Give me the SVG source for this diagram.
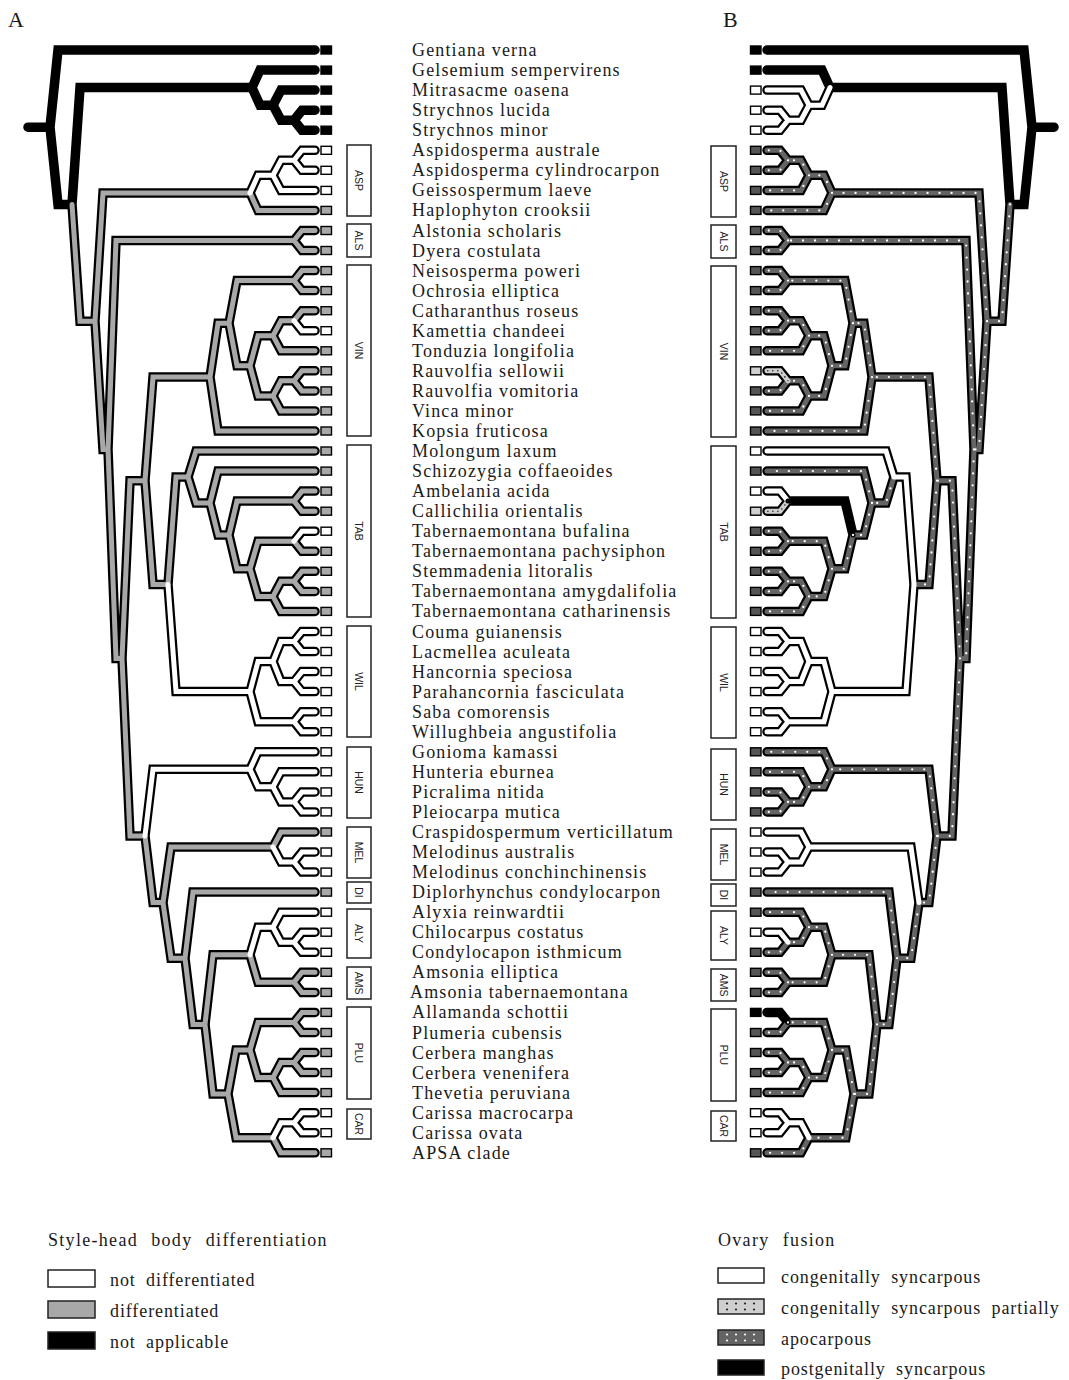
<svg xmlns="http://www.w3.org/2000/svg" xmlns:xlink="http://www.w3.org/1999/xlink" width="1069" height="1380" viewBox="0 0 1069 1380">
<style>
.ol{fill:none;stroke:#000;stroke-width:9.5;stroke-linecap:round;stroke-linejoin:miter}
.e{fill:none;stroke-width:5;stroke-linecap:round;stroke-linejoin:miter}
.g{stroke:#a8a8a8}.w{stroke:#fff}.k{stroke:#000}.a{stroke:#646464}.p{stroke:#cfcfcf}
.ad{fill:none;stroke:#fff;stroke-width:2.3;stroke-linecap:round;stroke-dasharray:0 12}
.pd{fill:none;stroke:#222;stroke-width:1.6;stroke-linecap:round;stroke-dasharray:0 5}
.tip rect{stroke:#000;stroke-width:1.4}
.tk{fill:#000}.tw{fill:#fff}.tg{fill:#a8a8a8}.ta{fill:#555}.tp{fill:#cfcfcf}
.nm{font-family:"Liberation Serif","Times New Roman",serif;font-size:18px;letter-spacing:1.15px;fill:#1a1a1a}
.cb rect{fill:#fff;stroke:#222;stroke-width:1.5}
.cb text{font-family:"Liberation Sans",Arial,sans-serif;font-size:10.5px;fill:#222;text-anchor:middle}
.lg{font-family:"Liberation Serif","Times New Roman",serif;font-size:18px;letter-spacing:0.9px;word-spacing:5px;fill:#1a1a1a}
.lt{letter-spacing:1.3px;word-spacing:7.5px}
.lb{stroke:#222;stroke-width:1.5}
.hd{font-family:"Liberation Serif","Times New Roman",serif;font-size:22px;fill:#1a1a1a}
</style>
<defs>
<path id="allE" d="M28 127.2H50 M50 127.2L58 50H315 M50 127.2L58 204.4H72 M72 204.4L80 87.6H252 M252 87.6L260 70.1H315 M252 87.6L260 105.2H273 M273 105.2L281 90.1H315 M273 105.2L281 120.2H294 M294 120.2L302 110.2H315 M294 120.2L302 130.2H315
M72 204.4L80 321.2H95 M95 321.2L103 192.9H250 M250 192.9L258 175.3H273 M273 175.3L281 160.3H294 M294 160.3L302 150.3H315 M294 160.3L302 170.3H315 M273 175.3L281 190.4H315 M250 192.9L258 210.4H315
M95 321.2L103 449.4H108 M108 449.4L116 240.5H294 M294 240.5L302 230.5H315 M294 240.5L302 250.5H315 M108 449.4L116 658.4H122 M122 658.4L130 480.7H145 M145 480.7L153 377.1H210 M210 377.1L218 323.2H229 M210 377.1L218 431H315 M229 323.2L237 280.6H294 M294 280.6L302 270.6H315 M294 280.6L302 290.6H315 M229 323.2L237 365.8H250 M250 365.8L258 335.7H273 M273 335.7L281 320.7H294 M294 320.7L302 310.7H315 M294 320.7L302 330.7H315 M273 335.7L281 350.8H315 M250 365.8L258 395.9H273 M273 395.9L281 380.8H294 M294 380.8L302 370.8H315 M294 380.8L302 390.9H315 M273 395.9L281 410.9H315
M145 480.7L153 584.4H168 M168 584.4L176 477H188 M188 477L196 451H315 M188 477L196 503H210 M210 503L218 471.1H315 M210 503L218 535H229 M229 535L237 501.1H294 M294 501.1L302 491.1H315 M294 501.1L302 511.2H315 M229 535L237 568.8H250 M250 568.8L258 541.2H294 M294 541.2L302 531.2H315 M294 541.2L302 551.3H315 M250 568.8L258 596.4H273 M273 596.4L281 581.3H294 M294 581.3L302 571.3H315 M294 581.3L302 591.4H315 M273 596.4L281 611.4H315
M168 584.4L176 691.6H250 M250 691.6L258 661.5H273 M273 661.5L281 641.5H294 M294 641.5L302 631.5H315 M294 641.5L302 651.5H315 M273 661.5L281 681.6H294 M294 681.6L302 671.6H315 M294 681.6L302 691.6H315 M250 691.6L258 721.7H294 M294 721.7L302 711.7H315 M294 721.7L302 731.7H315
M122 658.4L130 836H145 M145 836L153 769.3H250 M250 769.3L258 751.8H315 M250 769.3L258 786.8H273 M273 786.8L281 771.8H315 M273 786.8L281 801.9H294 M294 801.9L302 791.9H315 M294 801.9L302 811.9H315
M145 836L153 902.6H163 M163 902.6L171 847H273 M273 847L281 832H315 M273 847L281 862H294 M294 862L302 852H315 M294 862L302 872.1H315 M163 902.6L171 958.2H185 M185 958.2L193 892.1H315 M185 958.2L193 1024.4H205 M205 1024.4L213 954.8H250 M250 954.8L258 927.2H273 M273 927.2L281 912.2H315 M273 927.2L281 942.2H294 M294 942.2L302 932.2H315 M294 942.2L302 952.3H315 M250 954.8L258 982.3H294 M294 982.3L302 972.3H315 M294 982.3L302 992.4H315
M205 1024.4L213 1093.9H228 M228 1093.9L236 1050H250 M250 1050L258 1022.4H294 M294 1022.4L302 1012.4H315 M294 1022.4L302 1032.5H315 M250 1050L258 1077.6H273 M273 1077.6L281 1062.5H294 M294 1062.5L302 1052.5H315 M294 1062.5L302 1072.6H315 M273 1077.6L281 1092.6H315 M228 1093.9L236 1137.7H273 M273 1137.7L281 1122.7H294 M294 1122.7L302 1112.7H315 M294 1122.7L302 1132.7H315 M273 1137.7L281 1152.8H315"/>
</defs>
<rect width="1069" height="1380" fill="#fff"/>
<text class="hd" x="8" y="27">A</text>
<text class="hd" x="723" y="27">B</text>

<g id="connectors">
<g id="treeA">
<use xlink:href="#allE" href="#allE" class="ol"/>
<path class="e g" d="M72 204.4L80 321.2H95 M95 321.2L103 192.9H250 M250 192.9L258 210.4H315 M95 321.2L103 449.4H108 M108 449.4L116 240.5H294 M294 240.5L302 230.5H315 M294 240.5L302 250.5H315 M108 449.4L116 658.4H122 M122 658.4L130 480.7H145 M145 480.7L153 377.1H210 M210 377.1L218 323.2H229 M210 377.1L218 431H315 M229 323.2L237 280.6H294 M294 280.6L302 270.6H315 M294 280.6L302 290.6H315 M229 323.2L237 365.8H250 M250 365.8L258 335.7H273 M273 335.7L281 320.7H294 M294 320.7L302 310.7H315 M273 335.7L281 350.8H315 M250 365.8L258 395.9H273 M273 395.9L281 380.8H294 M294 380.8L302 370.8H315 M294 380.8L302 390.9H315 M273 395.9L281 410.9H315 M145 480.7L153 584.4H168 M168 584.4L176 477H188 M188 477L196 451H315 M188 477L196 503H210 M210 503L218 471.1H315 M210 503L218 535H229 M229 535L237 501.1H294 M294 501.1L302 491.1H315 M294 501.1L302 511.2H315 M229 535L237 568.8H250 M250 568.8L258 541.2H294 M294 541.2L302 551.3H315 M250 568.8L258 596.4H273 M273 596.4L281 581.3H294 M294 581.3L302 571.3H315 M294 581.3L302 591.4H315 M273 596.4L281 611.4H315 M122 658.4L130 836H145 M145 836L153 902.6H163 M163 902.6L171 847H273 M273 847L281 832H315 M163 902.6L171 958.2H185 M185 958.2L193 892.1H315 M185 958.2L193 1024.4H205 M205 1024.4L213 954.8H250 M250 954.8L258 982.3H294 M294 982.3L302 972.3H315 M294 982.3L302 992.4H315 M205 1024.4L213 1093.9H228 M228 1093.9L236 1050H250 M250 1050L258 1022.4H294 M294 1022.4L302 1012.4H315 M294 1022.4L302 1032.5H315 M250 1050L258 1077.6H273 M273 1077.6L281 1062.5H294 M294 1062.5L302 1052.5H315 M294 1062.5L302 1072.6H315 M273 1077.6L281 1092.6H315 M228 1093.9L236 1137.7H273 M273 1137.7L281 1152.8H315"/>
<path class="e w" d="M250 192.9L258 175.3H273 M273 175.3L281 160.3H294 M294 160.3L302 150.3H315 M294 160.3L302 170.3H315 M273 175.3L281 190.4H315 M294 320.7L302 330.7H315 M294 541.2L302 531.2H315 M168 584.4L176 691.6H250 M250 691.6L258 661.5H273 M273 661.5L281 641.5H294 M294 641.5L302 631.5H315 M294 641.5L302 651.5H315 M273 661.5L281 681.6H294 M294 681.6L302 671.6H315 M294 681.6L302 691.6H315 M250 691.6L258 721.7H294 M294 721.7L302 711.7H315 M294 721.7L302 731.7H315 M145 836L153 769.3H250 M250 769.3L258 751.8H315 M250 769.3L258 786.8H273 M273 786.8L281 771.8H315 M273 786.8L281 801.9H294 M294 801.9L302 791.9H315 M294 801.9L302 811.9H315 M273 847L281 862H294 M294 862L302 852H315 M294 862L302 872.1H315 M250 954.8L258 927.2H273 M273 927.2L281 912.2H315 M273 927.2L281 942.2H294 M294 942.2L302 932.2H315 M294 942.2L302 952.3H315 M273 1137.7L281 1122.7H294 M294 1122.7L302 1112.7H315 M294 1122.7L302 1132.7H315"/>
</g>
<g id="treeB" transform="matrix(-1 0 0 1 1082 0)">
<use xlink:href="#allE" href="#allE" class="ol"/>
<path class="e a" d="M72 204.4L80 321.2H95 M95 321.2L103 192.9H250 M250 192.9L258 175.3H273 M273 175.3L281 160.3H294 M294 160.3L302 150.3H315 M294 160.3L302 170.3H315 M273 175.3L281 190.4H315 M250 192.9L258 210.4H315 M95 321.2L103 449.4H108 M108 449.4L116 240.5H294 M294 240.5L302 230.5H315 M294 240.5L302 250.5H315 M108 449.4L116 658.4H122 M122 658.4L130 480.7H145 M145 480.7L153 377.1H210 M210 377.1L218 323.2H229 M210 377.1L218 431H315 M229 323.2L237 280.6H294 M294 280.6L302 270.6H315 M294 280.6L302 290.6H315 M229 323.2L237 365.8H250 M250 365.8L258 335.7H273 M273 335.7L281 320.7H294 M294 320.7L302 310.7H315 M294 320.7L302 330.7H315 M273 335.7L281 350.8H315 M250 365.8L258 395.9H273 M273 395.9L281 380.8H294 M294 380.8L302 390.9H315 M273 395.9L281 410.9H315 M145 480.7L153 584.4H168 M188 477L196 503H210 M210 503L218 471.1H315 M210 503L218 535H229 M229 535L237 568.8H250 M250 568.8L258 541.2H294 M294 541.2L302 531.2H315 M294 541.2L302 551.3H315 M250 568.8L258 596.4H273 M273 596.4L281 581.3H294 M294 581.3L302 571.3H315 M294 581.3L302 591.4H315 M273 596.4L281 611.4H315 M122 658.4L130 836H145 M145 836L153 769.3H250 M250 769.3L258 751.8H315 M250 769.3L258 786.8H273 M273 786.8L281 771.8H315 M273 786.8L281 801.9H294 M294 801.9L302 791.9H315 M294 801.9L302 811.9H315 M145 836L153 902.6H163 M163 902.6L171 958.2H185 M185 958.2L193 892.1H315 M185 958.2L193 1024.4H205 M205 1024.4L213 954.8H250 M250 954.8L258 927.2H273 M273 927.2L281 912.2H315 M273 927.2L281 942.2H294 M294 942.2L302 952.3H315 M250 954.8L258 982.3H294 M294 982.3L302 972.3H315 M294 982.3L302 992.4H315 M205 1024.4L213 1093.9H228 M228 1093.9L236 1050H250 M250 1050L258 1022.4H294 M294 1022.4L302 1032.5H315 M250 1050L258 1077.6H273 M273 1077.6L281 1062.5H294 M294 1062.5L302 1052.5H315 M294 1062.5L302 1072.6H315 M273 1077.6L281 1092.6H315 M228 1093.9L236 1137.7H273 M273 1137.7L281 1152.8H315"/>
<path class="e w" d="M252 87.6L260 105.2H273 M273 105.2L281 90.1H315 M273 105.2L281 120.2H294 M294 120.2L302 110.2H315 M294 120.2L302 130.2H315 M168 584.4L176 477H188 M188 477L196 451H315 M294 501.1L302 491.1H315 M168 584.4L176 691.6H250 M250 691.6L258 661.5H273 M273 661.5L281 641.5H294 M294 641.5L302 631.5H315 M294 641.5L302 651.5H315 M273 661.5L281 681.6H294 M294 681.6L302 671.6H315 M294 681.6L302 691.6H315 M250 691.6L258 721.7H294 M294 721.7L302 711.7H315 M294 721.7L302 731.7H315 M163 902.6L171 847H273 M273 847L281 832H315 M273 847L281 862H294 M294 862L302 852H315 M294 862L302 872.1H315 M294 942.2L302 932.2H315 M273 1137.7L281 1122.7H294 M294 1122.7L302 1112.7H315 M294 1122.7L302 1132.7H315"/>
<path class="e p" d="M294 380.8L302 370.8H315 M294 501.1L302 511.2H315"/>
<path class="e k" d="M229 535L237 501.1H294 M294 1022.4L302 1012.4H315"/>
<path class="ad" d="M72 204.4L80 321.2H95 M95 321.2L103 192.9H250 M250 192.9L258 175.3H273 M273 175.3L281 160.3H294 M294 160.3L302 150.3H315 M294 160.3L302 170.3H315 M273 175.3L281 190.4H315 M250 192.9L258 210.4H315 M95 321.2L103 449.4H108 M108 449.4L116 240.5H294 M294 240.5L302 230.5H315 M294 240.5L302 250.5H315 M108 449.4L116 658.4H122 M122 658.4L130 480.7H145 M145 480.7L153 377.1H210 M210 377.1L218 323.2H229 M210 377.1L218 431H315 M229 323.2L237 280.6H294 M294 280.6L302 270.6H315 M294 280.6L302 290.6H315 M229 323.2L237 365.8H250 M250 365.8L258 335.7H273 M273 335.7L281 320.7H294 M294 320.7L302 310.7H315 M294 320.7L302 330.7H315 M273 335.7L281 350.8H315 M250 365.8L258 395.9H273 M273 395.9L281 380.8H294 M294 380.8L302 390.9H315 M273 395.9L281 410.9H315 M145 480.7L153 584.4H168 M188 477L196 503H210 M210 503L218 471.1H315 M210 503L218 535H229 M229 535L237 568.8H250 M250 568.8L258 541.2H294 M294 541.2L302 531.2H315 M294 541.2L302 551.3H315 M250 568.8L258 596.4H273 M273 596.4L281 581.3H294 M294 581.3L302 571.3H315 M294 581.3L302 591.4H315 M273 596.4L281 611.4H315 M122 658.4L130 836H145 M145 836L153 769.3H250 M250 769.3L258 751.8H315 M250 769.3L258 786.8H273 M273 786.8L281 771.8H315 M273 786.8L281 801.9H294 M294 801.9L302 791.9H315 M294 801.9L302 811.9H315 M145 836L153 902.6H163 M163 902.6L171 958.2H185 M185 958.2L193 892.1H315 M185 958.2L193 1024.4H205 M205 1024.4L213 954.8H250 M250 954.8L258 927.2H273 M273 927.2L281 912.2H315 M273 927.2L281 942.2H294 M294 942.2L302 952.3H315 M250 954.8L258 982.3H294 M294 982.3L302 972.3H315 M294 982.3L302 992.4H315 M205 1024.4L213 1093.9H228 M228 1093.9L236 1050H250 M250 1050L258 1022.4H294 M294 1022.4L302 1032.5H315 M250 1050L258 1077.6H273 M273 1077.6L281 1062.5H294 M294 1062.5L302 1052.5H315 M294 1062.5L302 1072.6H315 M273 1077.6L281 1092.6H315 M228 1093.9L236 1137.7H273 M273 1137.7L281 1152.8H315"/>
<path class="pd" d="M294 380.8L302 370.8H315 M294 501.1L302 511.2H315"/>
</g>
</g>

<g id="tipsA" class="tip">
<g class="tk"><rect x="321" y="46" width="10.5" height="8"/><rect x="321" y="66.1" width="10.5" height="8"/><rect x="321" y="86.1" width="10.5" height="8"/><rect x="321" y="106.2" width="10.5" height="8"/><rect x="321" y="126.2" width="10.5" height="8"/></g>
<g class="tw"><rect x="321" y="146.3" width="10.5" height="8"/><rect x="321" y="166.3" width="10.5" height="8"/><rect x="321" y="186.4" width="10.5" height="8"/><rect x="321" y="326.7" width="10.5" height="8"/><rect x="321" y="527.2" width="10.5" height="8"/><rect x="321" y="627.5" width="10.5" height="8"/><rect x="321" y="647.5" width="10.5" height="8"/><rect x="321" y="667.6" width="10.5" height="8"/><rect x="321" y="687.6" width="10.5" height="8"/><rect x="321" y="707.7" width="10.5" height="8"/><rect x="321" y="727.7" width="10.5" height="8"/><rect x="321" y="747.8" width="10.5" height="8"/><rect x="321" y="767.8" width="10.5" height="8"/><rect x="321" y="787.9" width="10.5" height="8"/><rect x="321" y="807.9" width="10.5" height="8"/><rect x="321" y="848" width="10.5" height="8"/><rect x="321" y="868.1" width="10.5" height="8"/><rect x="321" y="908.2" width="10.5" height="8"/><rect x="321" y="928.2" width="10.5" height="8"/><rect x="321" y="948.3" width="10.5" height="8"/><rect x="321" y="1108.7" width="10.5" height="8"/><rect x="321" y="1128.7" width="10.5" height="8"/></g>
<g class="tg"><rect x="321" y="206.4" width="10.5" height="8"/><rect x="321" y="226.5" width="10.5" height="8"/><rect x="321" y="246.5" width="10.5" height="8"/><rect x="321" y="266.6" width="10.5" height="8"/><rect x="321" y="286.6" width="10.5" height="8"/><rect x="321" y="306.7" width="10.5" height="8"/><rect x="321" y="346.8" width="10.5" height="8"/><rect x="321" y="366.8" width="10.5" height="8"/><rect x="321" y="386.9" width="10.5" height="8"/><rect x="321" y="406.9" width="10.5" height="8"/><rect x="321" y="427" width="10.5" height="8"/><rect x="321" y="447" width="10.5" height="8"/><rect x="321" y="467.1" width="10.5" height="8"/><rect x="321" y="487.1" width="10.5" height="8"/><rect x="321" y="507.2" width="10.5" height="8"/><rect x="321" y="547.3" width="10.5" height="8"/><rect x="321" y="567.3" width="10.5" height="8"/><rect x="321" y="587.4" width="10.5" height="8"/><rect x="321" y="607.4" width="10.5" height="8"/><rect x="321" y="828" width="10.5" height="8"/><rect x="321" y="888.1" width="10.5" height="8"/><rect x="321" y="968.3" width="10.5" height="8"/><rect x="321" y="988.4" width="10.5" height="8"/><rect x="321" y="1008.4" width="10.5" height="8"/><rect x="321" y="1028.5" width="10.5" height="8"/><rect x="321" y="1048.5" width="10.5" height="8"/><rect x="321" y="1068.6" width="10.5" height="8"/><rect x="321" y="1088.6" width="10.5" height="8"/><rect x="321" y="1148.8" width="10.5" height="8"/></g>
</g>

<g id="tipsB" class="tip" transform="matrix(-1 0 0 1 1082 0)">
<g class="tk"><rect x="321" y="46" width="10.5" height="8"/><rect x="321" y="66.1" width="10.5" height="8"/><rect x="321" y="1008.4" width="10.5" height="8"/></g>
<g class="tw"><rect x="321" y="86.1" width="10.5" height="8"/><rect x="321" y="106.2" width="10.5" height="8"/><rect x="321" y="126.2" width="10.5" height="8"/><rect x="321" y="447" width="10.5" height="8"/><rect x="321" y="487.1" width="10.5" height="8"/><rect x="321" y="627.5" width="10.5" height="8"/><rect x="321" y="647.5" width="10.5" height="8"/><rect x="321" y="667.6" width="10.5" height="8"/><rect x="321" y="687.6" width="10.5" height="8"/><rect x="321" y="707.7" width="10.5" height="8"/><rect x="321" y="727.7" width="10.5" height="8"/><rect x="321" y="828" width="10.5" height="8"/><rect x="321" y="848" width="10.5" height="8"/><rect x="321" y="868.1" width="10.5" height="8"/><rect x="321" y="928.2" width="10.5" height="8"/><rect x="321" y="1108.7" width="10.5" height="8"/><rect x="321" y="1128.7" width="10.5" height="8"/></g>
<g class="tp"><rect x="321" y="366.8" width="10.5" height="8"/><rect x="321" y="507.2" width="10.5" height="8"/></g>
<g class="ta"><rect x="321" y="146.3" width="10.5" height="8"/><rect x="321" y="166.3" width="10.5" height="8"/><rect x="321" y="186.4" width="10.5" height="8"/><rect x="321" y="206.4" width="10.5" height="8"/><rect x="321" y="226.5" width="10.5" height="8"/><rect x="321" y="246.5" width="10.5" height="8"/><rect x="321" y="266.6" width="10.5" height="8"/><rect x="321" y="286.6" width="10.5" height="8"/><rect x="321" y="306.7" width="10.5" height="8"/><rect x="321" y="326.7" width="10.5" height="8"/><rect x="321" y="346.8" width="10.5" height="8"/><rect x="321" y="386.9" width="10.5" height="8"/><rect x="321" y="406.9" width="10.5" height="8"/><rect x="321" y="427" width="10.5" height="8"/><rect x="321" y="467.1" width="10.5" height="8"/><rect x="321" y="527.2" width="10.5" height="8"/><rect x="321" y="547.3" width="10.5" height="8"/><rect x="321" y="567.3" width="10.5" height="8"/><rect x="321" y="587.4" width="10.5" height="8"/><rect x="321" y="607.4" width="10.5" height="8"/><rect x="321" y="747.8" width="10.5" height="8"/><rect x="321" y="767.8" width="10.5" height="8"/><rect x="321" y="787.9" width="10.5" height="8"/><rect x="321" y="807.9" width="10.5" height="8"/><rect x="321" y="888.1" width="10.5" height="8"/><rect x="321" y="908.2" width="10.5" height="8"/><rect x="321" y="948.3" width="10.5" height="8"/><rect x="321" y="968.3" width="10.5" height="8"/><rect x="321" y="988.4" width="10.5" height="8"/><rect x="321" y="1028.5" width="10.5" height="8"/><rect x="321" y="1048.5" width="10.5" height="8"/><rect x="321" y="1068.6" width="10.5" height="8"/><rect x="321" y="1088.6" width="10.5" height="8"/><rect x="321" y="1148.8" width="10.5" height="8"/></g>
</g>

<g id="taxa" class="nm">
<text id="t01" x="412" y="56">Gentiana verna</text>
<text id="t02" x="412" y="76.1">Gelsemium sempervirens</text>
<text id="t03" x="412" y="96.1">Mitrasacme oasena</text>
<text id="t04" x="412" y="116.2">Strychnos lucida</text>
<text id="t05" x="412" y="136.2">Strychnos minor</text>
<text id="t06" x="412" y="156.3">Aspidosperma australe</text>
<text id="t07" x="412" y="176.3">Aspidosperma cylindrocarpon</text>
<text id="t08" x="412" y="196.4">Geissospermum laeve</text>
<text id="t09" x="412" y="216.4">Haplophyton crooksii</text>
<text id="t10" x="412" y="236.5">Alstonia scholaris</text>
<text id="t11" x="412" y="256.5">Dyera costulata</text>
<text id="t12" x="412" y="276.6">Neisosperma poweri</text>
<text id="t13" x="412" y="296.6">Ochrosia elliptica</text>
<text id="t14" x="412" y="316.7">Catharanthus roseus</text>
<text id="t15" x="412" y="336.7">Kamettia chandeei</text>
<text id="t16" x="412" y="356.8">Tonduzia longifolia</text>
<text id="t17" x="412" y="376.8">Rauvolfia sellowii</text>
<text id="t18" x="412" y="396.9">Rauvolfia vomitoria</text>
<text id="t19" x="412" y="416.9">Vinca minor</text>
<text id="t20" x="412" y="437">Kopsia fruticosa</text>
<text id="t21" x="412" y="457">Molongum laxum</text>
<text id="t22" x="412" y="477.1">Schizozygia coffaeoides</text>
<text id="t23" x="412" y="497.1">Ambelania acida</text>
<text id="t24" x="412" y="517.2">Callichilia orientalis</text>
<text id="t25" x="412" y="537.2">Tabernaemontana bufalina</text>
<text id="t26" x="412" y="557.3">Tabernaemontana pachysiphon</text>
<text id="t27" x="412" y="577.3">Stemmadenia litoralis</text>
<text id="t28" x="412" y="597.4">Tabernaemontana amygdalifolia</text>
<text id="t29" x="412" y="617.4">Tabernaemontana catharinensis</text>
<text id="t30" x="412" y="637.5">Couma guianensis</text>
<text id="t31" x="412" y="657.5">Lacmellea aculeata</text>
<text id="t32" x="412" y="677.6">Hancornia speciosa</text>
<text id="t33" x="412" y="697.6">Parahancornia fasciculata</text>
<text id="t34" x="412" y="717.7">Saba comorensis</text>
<text id="t35" x="412" y="737.7">Willughbeia angustifolia</text>
<text id="t36" x="412" y="757.8">Gonioma kamassi</text>
<text id="t37" x="412" y="777.8">Hunteria eburnea</text>
<text id="t38" x="412" y="797.9">Picralima nitida</text>
<text id="t39" x="412" y="817.9">Pleiocarpa mutica</text>
<text id="t40" x="412" y="838">Craspidospermum verticillatum</text>
<text id="t41" x="412" y="858">Melodinus australis</text>
<text id="t42" x="412" y="878.1">Melodinus conchinchinensis</text>
<text id="t43" x="412" y="898.1">Diplorhynchus condylocarpon</text>
<text id="t44" x="412" y="918.2">Alyxia reinwardtii</text>
<text id="t45" x="412" y="938.2">Chilocarpus costatus</text>
<text id="t46" x="412" y="958.3">Condylocapon isthmicum</text>
<text id="t47" x="412" y="978.3">Amsonia elliptica</text>
<text id="t48" x="410" y="998.4">Amsonia tabernaemontana</text>
<text id="t49" x="412" y="1018.4">Allamanda schottii</text>
<text id="t50" x="412" y="1038.5">Plumeria cubensis</text>
<text id="t51" x="412" y="1058.5">Cerbera manghas</text>
<text id="t52" x="412" y="1078.6">Cerbera venenifera</text>
<text id="t53" x="412" y="1098.6">Thevetia peruviana</text>
<text id="t54" x="412" y="1118.7">Carissa macrocarpa</text>
<text id="t55" x="412" y="1138.7">Carissa ovata</text>
<text id="t56" x="412" y="1158.8">APSA clade</text>
</g>

<g id="cladesA" class="cb">
<g id="cA-ASP"><rect x="347" y="145" width="24" height="71"/><text transform="translate(359 180.5) rotate(90)" dy="0.36em">ASP</text></g>
<g id="cA-ALS"><rect x="347" y="224" width="24" height="33"/><text transform="translate(359 240.5) rotate(90)" dy="0.36em">ALS</text></g>
<g id="cA-VIN"><rect x="347" y="265" width="24" height="171"/><text transform="translate(359 350.5) rotate(90)" dy="0.36em">VIN</text></g>
<g id="cA-TAB"><rect x="347" y="445" width="24" height="172"/><text transform="translate(359 531) rotate(90)" dy="0.36em">TAB</text></g>
<g id="cA-WIL"><rect x="347" y="626" width="24" height="111"/><text transform="translate(359 681.5) rotate(90)" dy="0.36em">WIL</text></g>
<g id="cA-HUN"><rect x="347" y="747" width="24" height="71"/><text transform="translate(359 782.5) rotate(90)" dy="0.36em">HUN</text></g>
<g id="cA-MEL"><rect x="347" y="827" width="24" height="51"/><text transform="translate(359 852.5) rotate(90)" dy="0.36em">MEL</text></g>
<g id="cA-DI"><rect x="347" y="882" width="24" height="21"/><text transform="translate(359 892.5) rotate(90)" dy="0.36em">DI</text></g>
<g id="cA-ALY"><rect x="347" y="909" width="24" height="49"/><text transform="translate(359 933.5) rotate(90)" dy="0.36em">ALY</text></g>
<g id="cA-AMS"><rect x="347" y="967" width="24" height="32"/><text transform="translate(359 983) rotate(90)" dy="0.36em">AMS</text></g>
<g id="cA-PLU"><rect x="347" y="1007" width="24" height="92"/><text transform="translate(359 1053) rotate(90)" dy="0.36em">PLU</text></g>
<g id="cA-CAR"><rect x="347" y="1109" width="24" height="30"/><text transform="translate(359 1124) rotate(90)" dy="0.36em">CAR</text></g>
</g>
<g id="cladesB" class="cb">
<g id="cB-ASP"><rect x="711" y="146" width="25" height="71"/><text transform="translate(723.5 181.5) rotate(90)" dy="0.36em">ASP</text></g>
<g id="cB-ALS"><rect x="711" y="225" width="25" height="33"/><text transform="translate(723.5 241.5) rotate(90)" dy="0.36em">ALS</text></g>
<g id="cB-VIN"><rect x="711" y="266" width="25" height="171"/><text transform="translate(723.5 351.5) rotate(90)" dy="0.36em">VIN</text></g>
<g id="cB-TAB"><rect x="711" y="446" width="25" height="172"/><text transform="translate(723.5 532) rotate(90)" dy="0.36em">TAB</text></g>
<g id="cB-WIL"><rect x="711" y="627" width="25" height="111"/><text transform="translate(723.5 682.5) rotate(90)" dy="0.36em">WIL</text></g>
<g id="cB-HUN"><rect x="711" y="749" width="25" height="71"/><text transform="translate(723.5 784.5) rotate(90)" dy="0.36em">HUN</text></g>
<g id="cB-MEL"><rect x="711" y="829" width="25" height="51"/><text transform="translate(723.5 854.5) rotate(90)" dy="0.36em">MEL</text></g>
<g id="cB-DI"><rect x="711" y="884" width="25" height="22"/><text transform="translate(723.5 895) rotate(90)" dy="0.36em">DI</text></g>
<g id="cB-ALY"><rect x="711" y="911" width="25" height="49"/><text transform="translate(723.5 935.5) rotate(90)" dy="0.36em">ALY</text></g>
<g id="cB-AMS"><rect x="711" y="969" width="25" height="32"/><text transform="translate(723.5 985) rotate(90)" dy="0.36em">AMS</text></g>
<g id="cB-PLU"><rect x="711" y="1009" width="25" height="92"/><text transform="translate(723.5 1055) rotate(90)" dy="0.36em">PLU</text></g>
<g id="cB-CAR"><rect x="711" y="1111" width="25" height="30"/><text transform="translate(723.5 1126) rotate(90)" dy="0.36em">CAR</text></g>
</g>

<g id="legendA">
<text class="lg lt" x="48" y="1246">Style-head body differentiation</text>
<rect class="lb" x="48" y="1270" width="47" height="17" fill="#fff"/>
<rect class="lb" x="48" y="1301" width="47" height="17" fill="#a8a8a8"/>
<rect class="lb" x="48" y="1332" width="47" height="17" fill="#000"/>
<text class="lg" x="110" y="1286">not differentiated</text>
<text class="lg" x="110" y="1317">differentiated</text>
<text class="lg" x="110" y="1348">not applicable</text>
</g>
<g id="legendB">
<text class="lg lt" x="718" y="1246">Ovary fusion</text>
<rect class="lb" x="718" y="1268" width="46" height="15" fill="#fff"/>
<rect class="lb" x="718" y="1299" width="46" height="15" fill="#cfcfcf"/>
<g fill="#222"><circle cx="727" cy="1303.5" r="1.1"/><circle cx="736" cy="1303.5" r="1.1"/><circle cx="745" cy="1303.5" r="1.1"/><circle cx="754" cy="1303.5" r="1.1"/><circle cx="727" cy="1309.5" r="1.1"/><circle cx="736" cy="1309.5" r="1.1"/><circle cx="745" cy="1309.5" r="1.1"/><circle cx="754" cy="1309.5" r="1.1"/></g>
<rect class="lb" x="718" y="1330" width="46" height="15" fill="#646464"/>
<g fill="#fff"><circle cx="727" cy="1334.5" r="1.1"/><circle cx="736" cy="1334.5" r="1.1"/><circle cx="745" cy="1334.5" r="1.1"/><circle cx="754" cy="1334.5" r="1.1"/><circle cx="727" cy="1340.5" r="1.1"/><circle cx="736" cy="1340.5" r="1.1"/><circle cx="745" cy="1340.5" r="1.1"/><circle cx="754" cy="1340.5" r="1.1"/></g>
<rect class="lb" x="718" y="1360" width="46" height="15" fill="#000"/>
<text class="lg" x="781" y="1283">congenitally syncarpous</text>
<text class="lg" x="781" y="1314">congenitally syncarpous partially</text>
<text class="lg" x="781" y="1345">apocarpous</text>
<text class="lg" x="781" y="1375">postgenitally syncarpous</text>
</g>
</svg>
